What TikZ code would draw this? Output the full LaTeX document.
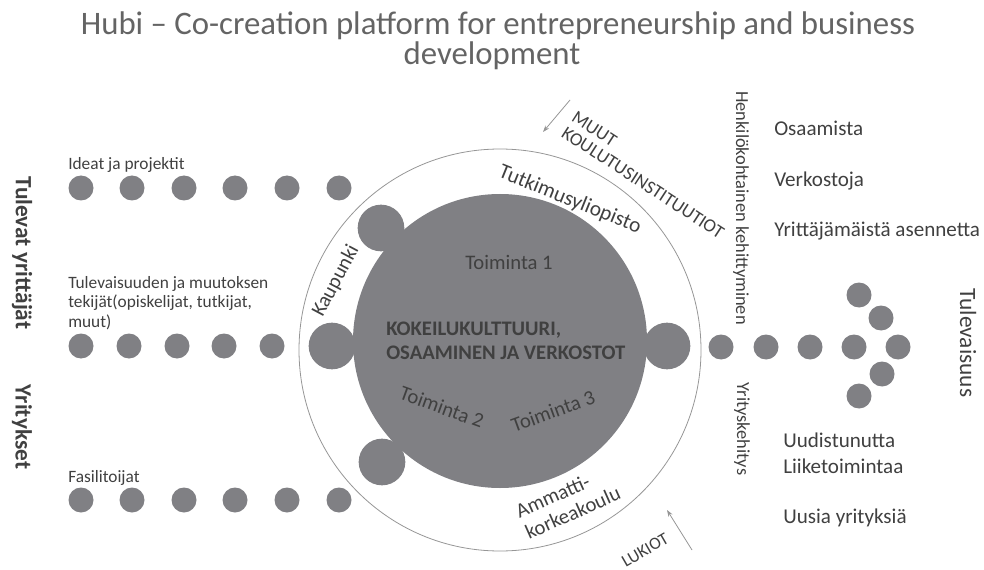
\documentclass[tikz,border=0pt]{standalone}
\usepackage{fontspec}
\setmainfont{Carlito}
\usetikzlibrary{arrows.meta}
\definecolor{disc}{RGB}{128,128,132}
\definecolor{ink}{RGB}{64,64,64}
\definecolor{titleink}{RGB}{100,100,100}
\definecolor{ringline}{RGB}{150,150,150}
\begin{document}
\begin{tikzpicture}[x=0.75pt,y=-0.75pt,
  dot/.style={circle,fill=disc,inner sep=0pt,minimum size=18.75pt},
  lump/.style={circle,fill=disc,inner sep=0pt,minimum size=35pt},
  lbl/.style={text=ink,inner sep=0pt,font=\fontsize{13pt}{14.5pt}\selectfont},
  outl/.style={text=ink,inner sep=0pt,font=\fontsize{15.8pt}{19.5pt}\selectfont},
  side/.style={text=ink,inner sep=0pt,font=\bfseries\fontsize{17.5pt}{19pt}\selectfont},
  arc/.style={text=ink,inner sep=0pt,font=\fontsize{15.5pt}{17pt}\selectfont},
  vert/.style={text=ink,inner sep=0pt,rotate=-90,font=\fontsize{13.8pt}{15pt}\selectfont},
  ttl/.style={text=titleink,inner sep=0pt,font=\fontsize{24.6pt}{26pt}\selectfont},
  thinarrow/.style={draw=ringline,line width=0.6pt,-{Stealth[length=5pt,width=3.5pt]}}
]
\useasboundingbox (0,0) rectangle (984,570);
% title
\node[ttl,anchor=base] (title1) at (498,35) {Hubi – Co-creation platform for entrepreneurship and business};
\node[ttl,anchor=base] (title2) at (492,65) {development};
% outer ring and core
\node[circle,draw=ringline,line width=0.6pt,inner sep=0pt,minimum size=301.5pt] (ring) at (500,350) {};
\node[lump] (lumpTL) at (381,228) {};
\node[lump] (lumpL) at (332,346) {};
\node[lump] (lumpR) at (667,346) {};
\node[lump] (lumpBL) at (382,462) {};
\node[circle,fill=disc,inner sep=0pt,minimum size=220.5pt] (core) at (500,341) {};
% core texts
\node[arc] (t1) at (509,262) {Toiminta 1};
\node[text=ink,inner sep=0pt,align=left,anchor=west,font=\bfseries\fontsize{15.5pt}{18pt}\selectfont] (kok) at (386,341)
  {KOKEILUKULTTUURI,\\OSAAMINEN JA VERKOSTOT};
\node[arc,rotate=-20] (t2) at (442,407) {Toiminta 2};
\node[arc,rotate=20] (t3) at (553,411) {Toiminta 3};
% ring texts
\node[arc,rotate=62] (kaup) at (336,281) {Kaupunki};
\node[arc,rotate=-22,font=\fontsize{16pt}{17pt}\selectfont] (tutk) at (570,200) {Tutkimusyliopisto};
\node[arc,rotate=24,align=left,font=\fontsize{15.5pt}{17.5pt}\selectfont] (amk) at (568,502) {Ammatti-\\korkeakoulu};
\node[arc,rotate=-33,align=left,font=\fontsize{14pt}{14pt}\selectfont] (muut) at (648,175) {MUUT\\KOULUTUSINSTITUUTIOT};
\node[arc,rotate=30,font=\fontsize{13pt}{14pt}\selectfont] (lukiot) at (645,550) {LUKIOT};
\coordinate (muutA) at (570,100);
\coordinate (muutB) at (543,132);
\draw[thinarrow] (muutA) -- (muutB);
\coordinate (lukA) at (692,550);
\coordinate (lukB) at (667,510);
\draw[thinarrow] (lukA) -- (lukB);
% left rows
\foreach \i/\x in {1/81,2/132,3/184,4/235,5/287,6/339} {
  \node[dot] (a\i) at (\x,188) {};
  \node[dot] (c\i) at (\x,500) {};
}
\foreach \i/\x in {1/81,2/129,3/177,4/224,5/272} {
  \node[dot] (b\i) at (\x,346) {};
}
\node[lbl,anchor=base west] (ideat) at (68,170) {Ideat ja projektit};
\node[lbl,anchor=base west,align=left] (tekijat) at (68,327)
  {Tulevaisuuden ja muutoksen\\tekijät(opiskelijat, tutkijat,\\muut)};
\node[lbl,anchor=base west] (fasi) at (68,482) {Fasilitoijat};
\node[side,rotate=-90] (tulevat) at (22,253) {Tulevat yrittäjät};
\node[side,rotate=-90] (yrit) at (22,427) {Yritykset};
% right side
\foreach \i/\x in {1/721,2/766,3/810,4/854,5/898} {
  \node[dot] (r\i) at (\x,347) {};
}
\node[dot] (u1) at (859,295) {};
\node[dot] (u2) at (881,318) {};
\node[dot] (d2) at (882,374) {};
\node[dot] (d1) at (859,396) {};
\node[text=ink,inner sep=0pt,rotate=-90,font=\fontsize{17.5pt}{19pt}\selectfont] (tulevaisuus) at (968,343) {Tulevaisuus};
\node[vert] (henk) at (741,208) {Henkilökohtainen kehittyminen};
\node[vert] (yke) at (742,429) {Yrityskehitys};
\node[outl,anchor=base west] (osa) at (774,136) {Osaamista};
\node[outl,anchor=base west] (verk) at (774,187) {Verkostoja};
\node[outl,anchor=base west] (asen) at (774,237) {Yrittäjämäistä asennetta};
\node[outl,anchor=base west,align=left] (uud) at (783,473) {Uudistunutta\\Liiketoimintaa};
\node[outl,anchor=base west] (uusia) at (783,523) {Uusia yrityksiä};
\end{tikzpicture}
\end{document}
